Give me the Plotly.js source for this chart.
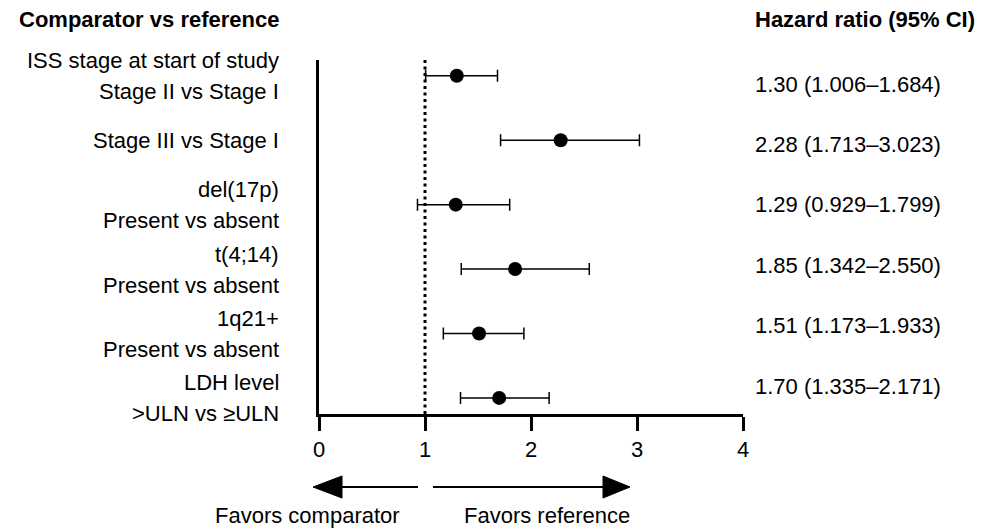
<!DOCTYPE html>
<html>
<head>
<meta charset="utf-8">
<script src="https://cdn.plot.ly/plotly-3.0.1.min.js"></script>
<style>html,body{margin:0;padding:0;background:#fff;}#chart{width:981px;height:529px;}</style>
</head>
<body>
<div id="chart"></div>
<script>
// ---- Data ----
var labelLine1 = ["ISS stage at start of study", "", "del(17p)", "t(4;14)", "1q21+", "LDH level"];
var labelLine2 = ["Stage II vs Stage I", "Stage III vs Stage I", "Present vs absent", "Present vs absent", "Present vs absent", ">ULN vs \u2265ULN"];
var hr = [1.30, 2.28, 1.29, 1.85, 1.51, 1.70];
var ciLow = [1.006, 1.713, 0.929, 1.342, 1.173, 1.335];
var ciHigh = [1.684, 3.023, 1.799, 2.550, 1.933, 2.171];
var xTicks = [0, 1, 2, 3, 4];
var headerLeft = "Comparator vs reference";
var headerRight = "Hazard ratio (95% CI)";
var favorLeft = "Favors comparator";
var favorRight = "Favors reference";
var refLine = 1;

// ---- Layout helpers ----
var W = 981, H = 529;
var M = {l: 319, r: 238, t: 60, b: 115};
var plotW = W - M.l - M.r, plotH = H - M.t - M.b;
function px2x(px) { return (px - M.l) / plotW; }
function py2y(py) { return (H - M.b - py) / plotH; }

var FONT = "Liberation Sans, Arial, Helvetica, sans-serif";
var rows = hr.map(function (_, i) { return i; });

var trace = {
  type: "scatter",
  mode: "markers",
  x: hr,
  y: rows,
  marker: {size: 14, color: "#000"},
  error_x: {
    type: "data",
    symmetric: false,
    array: hr.map(function (v, i) { return ciHigh[i] - v; }),
    arrayminus: hr.map(function (v, i) { return v - ciLow[i]; }),
    color: "#000",
    thickness: 1.5,
    width: 6
  },
  hoverinfo: "skip"
};

var annotations = [];
var tfont = {family: FONT, size: 22, color: "#000"};
annotations.push({xref: "paper", yref: "paper", x: px2x(281), y: py2y(19), xanchor: "right", yanchor: "middle",
  text: "<b>" + headerLeft + "</b>", showarrow: false, font: tfont});
annotations.push({xref: "paper", yref: "paper", x: px2x(753), y: py2y(19), xanchor: "left", yanchor: "middle",
  text: "<b>" + headerRight + "</b>", showarrow: false, font: tfont});

rows.forEach(function (r, i) {
  if (labelLine1[i]) {
    annotations.push({xref: "paper", yref: "y", x: px2x(281), y: r, yshift: 15, xanchor: "right", yanchor: "middle",
      text: labelLine1[i], showarrow: false, font: tfont});
    annotations.push({xref: "paper", yref: "y", x: px2x(281), y: r, yshift: -16, xanchor: "right", yanchor: "middle",
      text: labelLine2[i], showarrow: false, font: tfont});
  } else {
    annotations.push({xref: "paper", yref: "y", x: px2x(281), y: r, xanchor: "right", yanchor: "middle",
      text: labelLine2[i], showarrow: false, font: tfont});
  }
  var txt = hr[i].toFixed(2) + " (" + ciLow[i].toFixed(3) + "\u2013" + ciHigh[i].toFixed(3) + ")";
  annotations.push({xref: "paper", yref: "paper", x: px2x(753), y: py2y(84 + i * 60.4), xanchor: "left", yanchor: "middle",
    text: txt, showarrow: false, font: tfont});
});

annotations.push({xref: "paper", yref: "paper", x: px2x(307), y: py2y(529), xanchor: "center", yanchor: "bottom",
  text: favorLeft, showarrow: false, font: tfont, borderpad: 0});
annotations.push({xref: "paper", yref: "paper", x: px2x(547), y: py2y(529), xanchor: "center", yanchor: "bottom",
  text: favorRight, showarrow: false, font: tfont, borderpad: 0});

var ay = py2y(487), ah = 11 / plotH;
var shapes = [
  {type: "line", xref: "x", yref: "paper", x0: refLine, x1: refLine, y0: 0, y1: 1,
   line: {color: "#000", width: 3, dash: "3px,3.5px"}},
  {type: "line", xref: "paper", yref: "paper", x0: px2x(340), x1: px2x(418), y0: ay, y1: ay, line: {color: "#000", width: 2}},
  {type: "path", xref: "paper", yref: "paper",
   path: "M " + px2x(313) + "," + ay + " L " + px2x(342) + "," + (ay + ah) + " L " + px2x(342) + "," + (ay - ah) + " Z",
   fillcolor: "#000", line: {color: "#000", width: 1}},
  {type: "line", xref: "paper", yref: "paper", x0: px2x(433), x1: px2x(605), y0: ay, y1: ay, line: {color: "#000", width: 2}},
  {type: "path", xref: "paper", yref: "paper",
   path: "M " + px2x(630) + "," + ay + " L " + px2x(603) + "," + (ay + ah) + " L " + px2x(603) + "," + (ay - ah) + " Z",
   fillcolor: "#000", line: {color: "#000", width: 1}}
];

var layout = {
  width: W, height: H,
  margin: M,
  paper_bgcolor: "#fff", plot_bgcolor: "#fff",
  showlegend: false,
  font: {family: FONT, color: "#000"},
  xaxis: {
    range: [0, 4], tickvals: xTicks, ticktext: xTicks.map(String),
    showline: true, linecolor: "#000", linewidth: 3,
    ticks: "outside", ticklen: 14, tickwidth: 3, tickcolor: "#000",
    tickfont: {family: FONT, size: 22, color: "#000"},
    showgrid: false, zeroline: false, fixedrange: true
  },
  yaxis: {
    range: [5.25, -0.245], showline: true, linecolor: "#000", linewidth: 3,
    showticklabels: false, ticks: "", showgrid: false, zeroline: false, fixedrange: true
  },
  annotations: annotations,
  shapes: shapes
};

Plotly.newPlot("chart", [trace], layout, {displayModeBar: false, staticPlot: true});
</script>
</body>
</html>
